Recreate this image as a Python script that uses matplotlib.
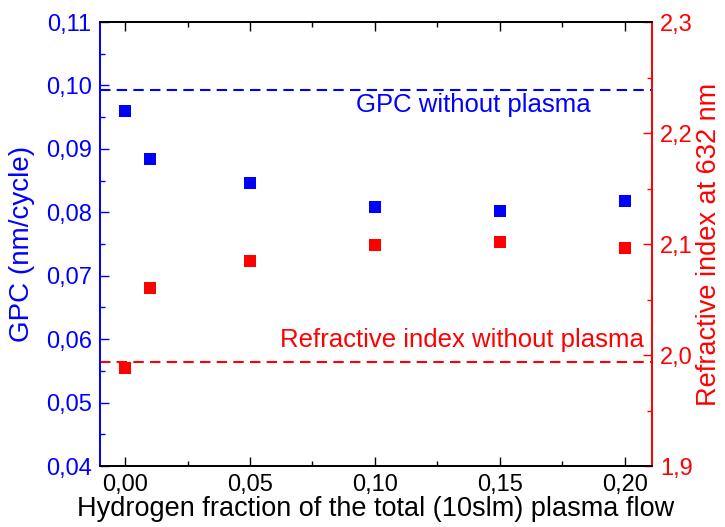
import matplotlib.pyplot as plt
from matplotlib.ticker import MultipleLocator, FuncFormatter

plt.rcParams['font.family'] = ['Liberation Sans', 'DejaVu Sans']

# data
h2_fraction = [0.00, 0.01, 0.05, 0.10, 0.15, 0.20]
gpc = [0.0960, 0.0884, 0.0846, 0.0808, 0.0802, 0.0818]
ref_index = [1.988, 2.060, 2.085, 2.099, 2.102, 2.096]
gpc_no_plasma = 0.0993
ri_no_plasma = 1.994

blue = '#0000ff'
red = '#ff0000'

def comma(v, nd):
    return ('{:.%df}' % nd).format(v).replace('.', ',')

fig = plt.figure(figsize=(7.25, 5.27), dpi=100)
ax = fig.add_axes([0.138, 0.1157, 0.761, 0.8425])
ax2 = ax.twinx()

ax.scatter(h2_fraction, gpc, marker='s', s=80, color=blue, zorder=3, linewidths=0)
ax.axhline(gpc_no_plasma, color=blue, ls=(0, (5, 3)), lw=1.5)
ax2.scatter(h2_fraction, ref_index, marker='s', s=80, color=red, zorder=3, linewidths=0)
ax2.axhline(ri_no_plasma, color=red, ls=(0, (5, 3)), lw=1.5)

ax.set_xlim(-0.01, 0.2108)
ax.set_ylim(0.04, 0.11)
ax2.set_ylim(1.9, 2.3)

# annotation labels
ax.text(0.1863, 0.0969, 'GPC without plasma', color=blue, fontsize=18.5,
        ha='right', va='center')
ax2.text(0.2075, 2.0135, 'Refractive index without plasma', color=red,
         fontsize=18.5, ha='right', va='center')

ax.set_xlabel('Hydrogen fraction of the total (10slm) plasma flow', fontsize=19.5)
ax.set_ylabel('GPC (nm/cycle)', fontsize=20, color=blue)
ax2.set_ylabel('Refractive index at 632 nm', fontsize=19.5, color=red)
ax.xaxis.label.set_va('center')
ax.yaxis.label.set_va('center')
ax2.yaxis.label.set_va('center')
ax.xaxis.set_label_coords(0.5, -0.097)
ax.yaxis.set_label_coords(-0.141, 0.5)
ax2.yaxis.set_label_coords(1.104, 0.5)

ax.xaxis.set_major_locator(MultipleLocator(0.05))
ax.xaxis.set_minor_locator(MultipleLocator(0.025))
ax.xaxis.set_major_formatter(FuncFormatter(lambda v, p: comma(v, 2)))
ax.yaxis.set_major_locator(MultipleLocator(0.01))
ax.yaxis.set_minor_locator(MultipleLocator(0.005))
ax.yaxis.set_major_formatter(FuncFormatter(lambda v, p: comma(v, 2)))
ax2.yaxis.set_major_locator(MultipleLocator(0.1))
ax2.yaxis.set_minor_locator(MultipleLocator(0.05))
ax2.yaxis.set_major_formatter(FuncFormatter(lambda v, p: comma(v, 1)))

ax.tick_params(axis='x', which='both', direction='in', top=True, labelsize=17, width=1, pad=6)
ax.tick_params(axis='y', which='both', direction='in', colors=blue, labelsize=17, width=1, pad=6)
ax2.tick_params(axis='y', which='both', direction='in', colors=red, labelsize=17, width=1, pad=6)
for a in (ax, ax2):
    a.tick_params(which='major', length=6.5)
    a.tick_params(which='minor', length=3.5)
    for s in a.spines.values():
        s.set_linewidth(1.3)
    a.spines['left'].set_color(blue)
    a.spines['right'].set_color(red)

fig.savefig('out.png', dpi=100)
